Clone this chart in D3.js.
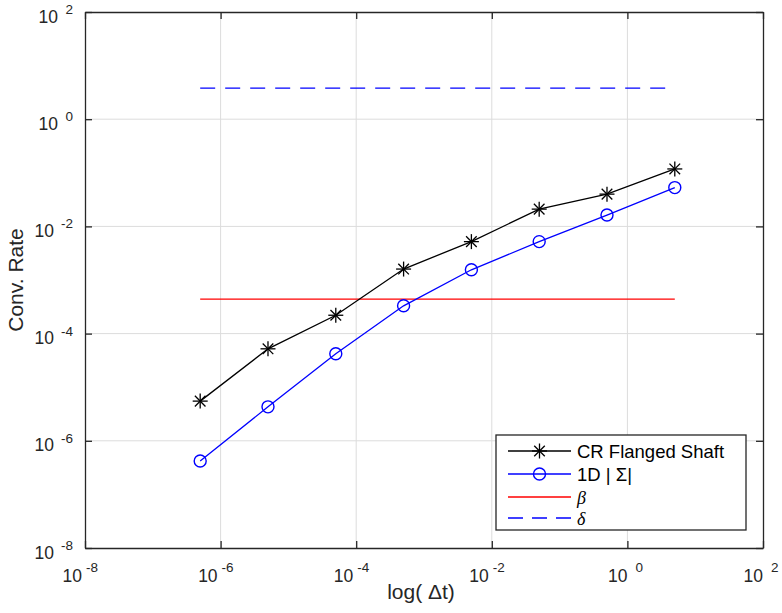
<!DOCTYPE html>
<html>
<head>
<meta charset="utf-8">
<script src="https://cdn.jsdelivr.net/npm/d3@7"></script>
<style>
  body { margin: 0; background: #fff; }
  svg { font-family: "Liberation Sans", Arial, Helvetica, sans-serif; }
</style>
</head>
<body>
<div id="chart"></div>
<script>
// data
const dt = [5e-7, 5e-6, 5e-5, 5e-4, 5e-3, 5e-2, 5e-1, 5];
const crFlanged = [5.5e-6, 5.2e-5, 2.2e-4, 1.6e-3, 5.2e-3, 0.021, 0.040, 0.118];
const oneD = [4.2e-7, 4.3e-6, 4.2e-5, 3.3e-4, 1.55e-3, 5.2e-3, 0.0163, 0.053];
const betaLevel = 4.4e-4;
const deltaLevel = 3.8;
const xTickExp = [-8, -6, -4, -2, 0, 2];
const yTickExp = [-8, -6, -4, -2, 0, 2];

const W = 782, H = 613;
const m = { left: 85, right: 19, top: 12, bottom: 65 };
const iw = W - m.left - m.right, ih = H - m.top - m.bottom;

const svg = d3.select("#chart").append("svg")
    .attr("width", W).attr("height", H);

const x = d3.scaleLog().domain([1e-8, 1e2]).range([m.left, m.left + iw]);
const y = d3.scaleLog().domain([1e-8, 1e2]).range([m.top + ih, m.top]);

const axisCol = "#262626";

// grid
const grid = svg.append("g");
grid.selectAll(".gx").data(xTickExp.slice(1, -1)).enter().append("line")
    .attr("x1", d => x(Math.pow(10, d))).attr("x2", d => x(Math.pow(10, d)))
    .attr("y1", m.top).attr("y2", m.top + ih)
    .attr("stroke", "#dcdcdc").attr("stroke-width", 1);
grid.selectAll(".gy").data(yTickExp.slice(1, -1)).enter().append("line")
    .attr("y1", d => y(Math.pow(10, d))).attr("y2", d => y(Math.pow(10, d)))
    .attr("x1", m.left).attr("x2", m.left + iw)
    .attr("stroke", "#dcdcdc").attr("stroke-width", 1);

// axes (inward ticks)
const tk = 7;
const xb = svg.append("g").attr("transform", `translate(0,${m.top + ih})`)
    .call(d3.axisBottom(x).tickValues(xTickExp.map(e => Math.pow(10, e))).tickSizeInner(-tk).tickSizeOuter(0).tickFormat(""));
const xt = svg.append("g").attr("transform", `translate(0,${m.top})`)
    .call(d3.axisTop(x).tickValues(xTickExp.map(e => Math.pow(10, e))).tickSizeInner(-tk).tickSizeOuter(0).tickFormat(""));
const yl = svg.append("g").attr("transform", `translate(${m.left},0)`)
    .call(d3.axisLeft(y).tickValues(yTickExp.map(e => Math.pow(10, e))).tickSizeInner(-tk).tickSizeOuter(0).tickFormat(""));
const yr = svg.append("g").attr("transform", `translate(${m.left + iw},0)`)
    .call(d3.axisRight(y).tickValues(yTickExp.map(e => Math.pow(10, e))).tickSizeInner(-tk).tickSizeOuter(0).tickFormat(""));
[xb, xt, yl, yr].forEach(g => {
    g.select(".domain").attr("stroke", axisCol).attr("stroke-width", 1.3);
    g.selectAll(".tick line").attr("stroke", axisCol).attr("stroke-width", 1.3);
});

// tick labels: "10" plus a raised exponent
const baseSize = 17.5, expSize = 13.5;
xTickExp.forEach(e => {
    const tx = x(Math.pow(10, e));
    const neg = e < 0;
    svg.append("text").attr("x", neg ? tx - 3 : tx).attr("y", m.top + ih + 34)
        .attr("text-anchor", "end").attr("font-size", baseSize).attr("fill", axisCol).text("10");
    svg.append("text").attr("x", neg ? tx + 1 : tx + 8).attr("y", m.top + ih + 24)
        .attr("text-anchor", "start").attr("font-size", expSize).attr("fill", axisCol).text(e);
});
yTickExp.forEach(e => {
    const ty = y(Math.pow(10, e));
    const neg = e < 0;
    svg.append("text").attr("x", m.left - (neg ? 31 : 27)).attr("y", ty + 10.5)
        .attr("text-anchor", "end").attr("font-size", baseSize).attr("fill", axisCol).text("10");
    svg.append("text").attr("x", m.left - 12).attr("y", ty + 2)
        .attr("text-anchor", "end").attr("font-size", expSize).attr("fill", axisCol).text(e);
});

// axis titles
svg.append("text").attr("x", 421).attr("y", 599)
    .attr("text-anchor", "middle").attr("font-size", 21).attr("fill", axisCol)
    .text("log( \u0394t)");
svg.append("text").attr("transform", `translate(23,${m.top + ih / 2}) rotate(-90)`)
    .attr("text-anchor", "middle").attr("font-size", 21).attr("fill", axisCol)
    .text("Conv. Rate");

const line = d3.line().x(d => x(d[0])).y(d => y(d[1]));

// beta and delta reference lines
svg.append("path").datum([[dt[0], betaLevel], [dt[dt.length - 1], betaLevel]])
    .attr("d", line).attr("fill", "none").attr("stroke", "#ff0000").attr("stroke-width", 1.3);
svg.append("path").datum([[dt[0], deltaLevel], [dt[dt.length - 1], deltaLevel]])
    .attr("d", line).attr("fill", "none").attr("stroke", "#0000ff").attr("stroke-width", 1.3)
    .attr("stroke-dasharray", "15,10");

// series
function star(g, cx, cy, r, col) {
    for (let k = 0; k < 4; k++) {
        const a = k * Math.PI / 4;
        g.append("line")
            .attr("x1", cx - r * Math.cos(a)).attr("y1", cy - r * Math.sin(a))
            .attr("x2", cx + r * Math.cos(a)).attr("y2", cy + r * Math.sin(a))
            .attr("stroke", col).attr("stroke-width", 1.3);
    }
}

const blk = dt.map((d, i) => [d, crFlanged[i]]);
const blu = dt.map((d, i) => [d, oneD[i]]);

svg.append("path").datum(blk).attr("d", line)
    .attr("fill", "none").attr("stroke", "#000").attr("stroke-width", 1.3);
const gs = svg.append("g");
blk.forEach(p => star(gs, x(p[0]), y(p[1]), 7.5, "#000"));

svg.append("path").datum(blu).attr("d", line)
    .attr("fill", "none").attr("stroke", "#0000ff").attr("stroke-width", 1.3);
svg.append("g").selectAll("circle").data(blu).enter().append("circle")
    .attr("cx", d => x(d[0])).attr("cy", d => y(d[1])).attr("r", 6)
    .attr("fill", "none").attr("stroke", "#0000ff").attr("stroke-width", 1.4);

// legend
const lg = svg.append("g");
lg.append("rect").attr("x", 496).attr("y", 435).attr("width", 250).attr("height", 95)
    .attr("fill", "#fff").attr("stroke", axisCol).attr("stroke-width", 1.3);
const entries = [
    { label: "CR Flanged Shaft", col: "#000", mark: "star" },
    { label: "1D | \u03a3|", col: "#0000ff", mark: "circle" },
    { label: "\u03b2", col: "#ff0000", italic: true },
    { label: "\u03b4", col: "#0000ff", dash: true, italic: true }
];
const rowY = [451, 474, 497, 518];
entries.forEach((e, i) => {
    const yy = rowY[i];
    lg.append("line").attr("x1", 508).attr("x2", 571).attr("y1", yy).attr("y2", yy)
        .attr("stroke", e.col).attr("stroke-width", 1.3)
        .attr("stroke-dasharray", e.dash ? "15,9" : null);
    if (e.mark === "star") star(lg, 539.5, yy, 7.5, e.col);
    if (e.mark === "circle") lg.append("circle").attr("cx", 539.5).attr("cy", yy).attr("r", 6)
        .attr("fill", "none").attr("stroke", e.col).attr("stroke-width", 1.4);
    lg.append("text").attr("x", 577).attr("y", yy + 6.5)
        .attr("font-size", e.italic ? 18 : 18.5).attr("fill", "#000")
        .attr("font-style", e.italic ? "italic" : null)
        .attr("font-family", e.italic ? "'Liberation Serif', 'DejaVu Serif', serif" : null)
        .text(e.label);
});
</script>
</body>
</html>
